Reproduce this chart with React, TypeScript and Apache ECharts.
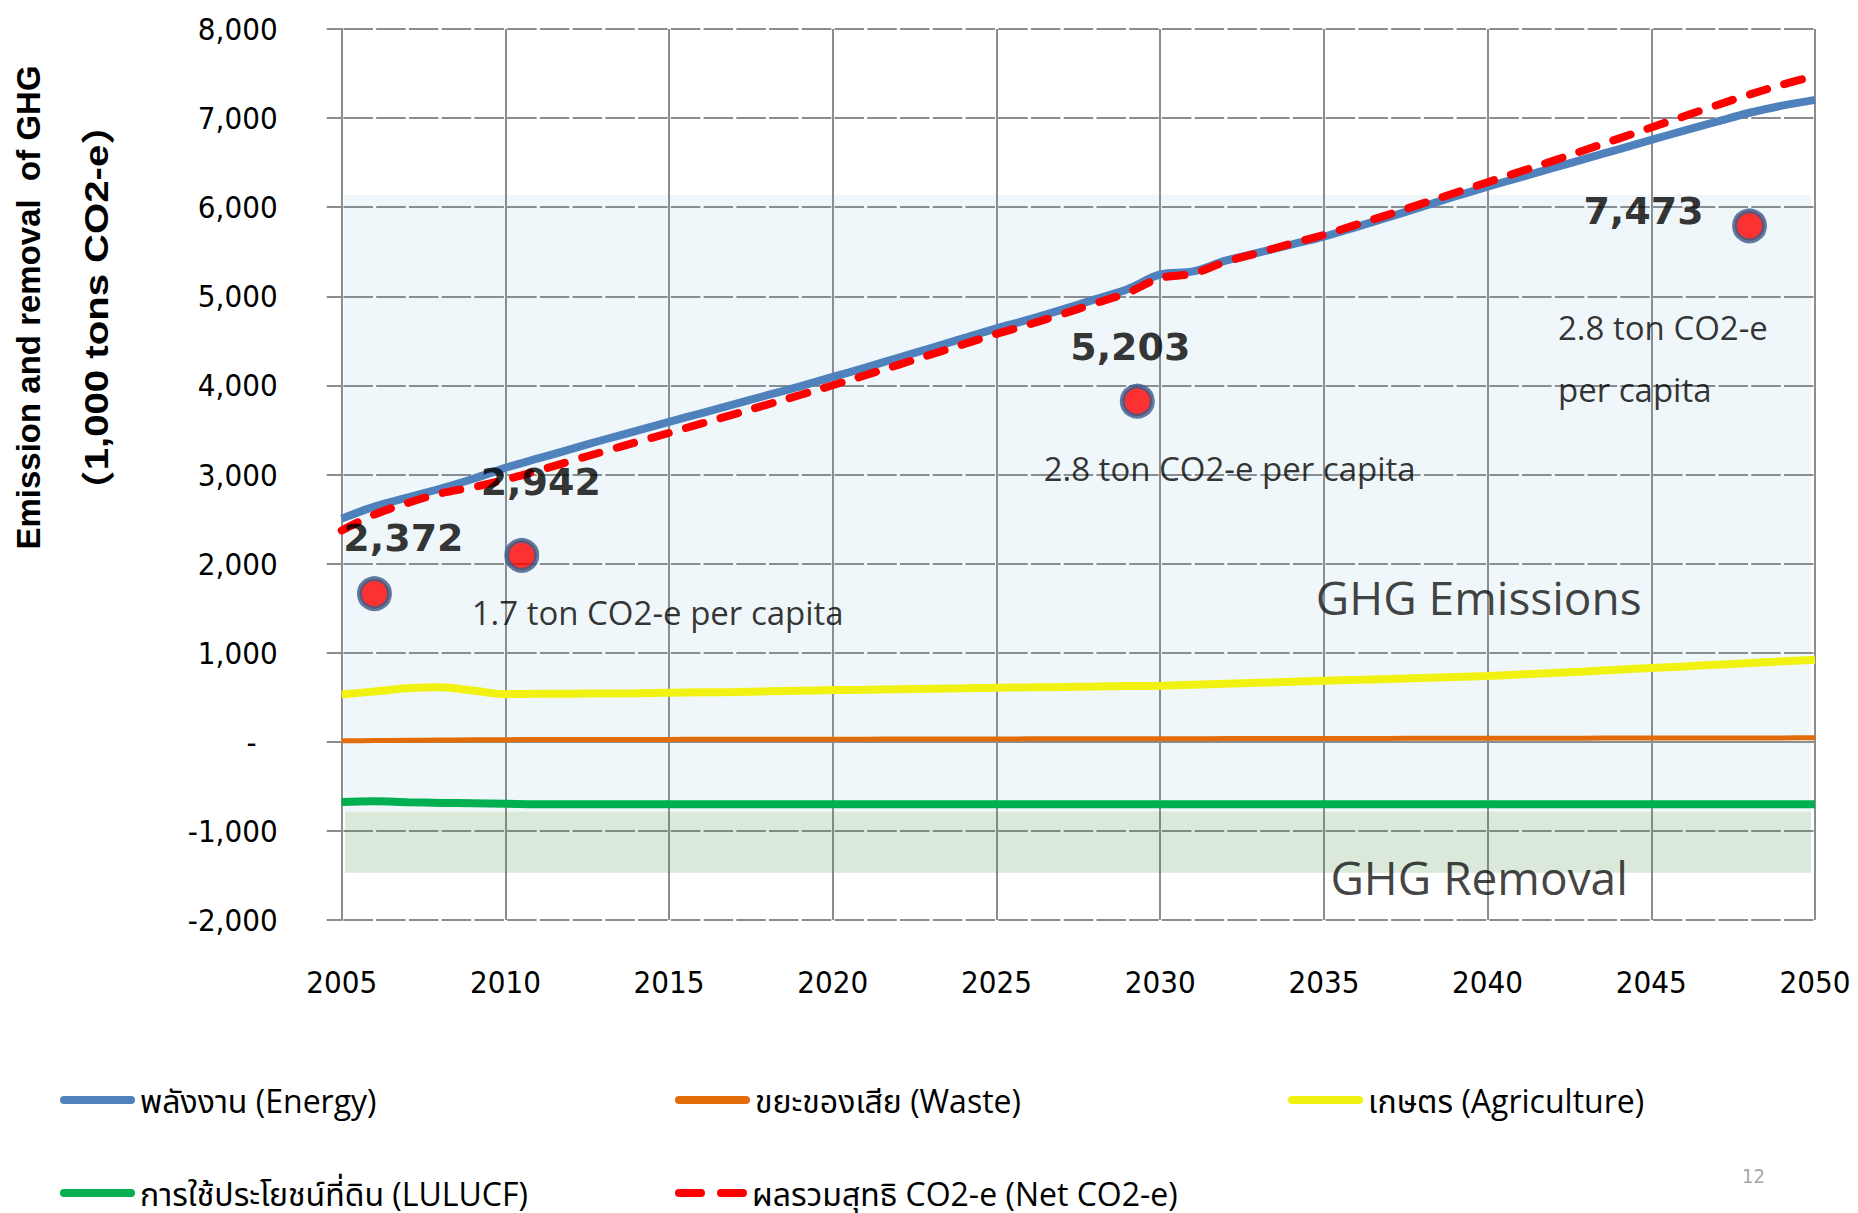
import React, { useEffect, useRef } from "react";
import * as echarts from "echarts";

const years = [
  2005, 2006, 2007, 2008, 2009, 2010, 2011, 2012, 2013, 2014,
  2015, 2016, 2017, 2018, 2019, 2020, 2021, 2022, 2023, 2024,
  2025, 2026, 2027, 2028, 2029, 2030, 2031, 2032, 2033, 2034,
  2035, 2036, 2037, 2038, 2039, 2040, 2041, 2042, 2043, 2044,
  2045, 2046, 2047, 2048, 2049, 2050,
];
const energy = [
  2505, 2640, 2740, 2840, 2950, 3075, 3180, 3285, 3390, 3490,
  3590, 3690, 3790, 3890, 3990, 4095, 4200, 4310, 4420, 4530,
  4640, 4740, 4850, 4965, 5080, 5245, 5280, 5400, 5490, 5580,
  5670, 5780, 5890, 6005, 6120, 6230, 6335, 6440, 6545, 6650,
  6755, 6860, 6960, 7060, 7140, 7205,
];
const waste = [
  11, 14, 17, 20, 22, 24, 25, 26, 26, 27,
  27, 28, 28, 29, 29, 30, 30, 31, 31, 32,
  32, 33, 33, 34, 34, 35, 35, 36, 36, 37,
  37, 38, 38, 39, 39, 40, 40, 41, 41, 42,
  42, 43, 43, 44, 44, 45,
];
const agriculture = [
  532, 565, 600, 612, 575, 535, 538, 540, 542, 545,
  550, 555, 560, 566, 573, 580, 585, 590, 596, 601,
  607, 611, 616, 620, 625, 630, 640, 651, 662, 673,
  685, 695, 705, 716, 727, 738, 755, 772, 790, 809,
  828, 846, 865, 884, 903, 922,
];
const lulucf = [
  -675, -668, -678, -686, -690, -695, -700, -700, -700, -700,
  -700, -700, -700, -700, -700, -700, -700, -700, -700, -700,
  -700, -700, -700, -700, -700, -700, -700, -700, -700, -700,
  -700, -700, -700, -700, -700, -700, -700, -700, -700, -700,
  -700, -700, -700, -700, -700, -700,
];
const netTotal = [
  2372, 2551, 2679, 2786, 2857, 2942, 3043, 3151, 3258, 3362,
  3467, 3573, 3678, 3785, 3892, 4002, 4115, 4231, 4347, 4463,
  4579, 4684, 4799, 4919, 5039, 5203, 5255, 5387, 5488, 5590,
  5690, 5805, 5920, 6040, 6160, 6280, 6400, 6520, 6645, 6770,
  6895, 7020, 7145, 7265, 7375, 7473,
];

const seriesNames = [
  "พลังงาน (Energy)",
  "ขยะของเสีย (Waste)",
  "เกษตร (Agriculture)",
  "การใช้ประโยชน์ที่ดิน (LULUCF)",
  "ผลรวมสุทธิ CO2-e (Net CO2-e)",
];
const seriesColors = ["#4f81bd", "#e36c0a", "#f2f212", "#00b050", "#ff0000"];

const dotYears = [2006.0, 2010.5, 2029.3, 2048.0];
const dotValues = [1663, 2093, 3823, 5791];
const dotLabels = ["2,372", "2,942", "5,203", "7,473"];
const dotLabelOffsets = [
  [29, -56],
  [19, -73],
  [-7, -54],
  [-106, -15],
];

const noteTexts = [
  "1.7 ton CO2-e per capita",
  "2.8 ton CO2-e per capita",
  "2.8 ton CO2-e\nper capita",
];
const noteYears = [2008.97, 2026.44, 2042.15];
const noteValues = [1450, 3070, 4305];

const regionTexts = ["GHG Emissions", "GHG Removal"];
const regionYears = [2039.73, 2039.74];
const regionValues = [1627, -1523];

// decorative boxes (data coordinates)
const emissionBox = { x0: 2005.07, x1: 2049.88, y0: -786, y1: 6136 };
const removalBox = { x0: 2005.1, x1: 2049.88, y0: -1471, y1: -786 };

const yTitle1 = "Emission and removal  of GHG";
const yTitle2 = "1,000 tons CO2-e";
const pageNumber = "12";

const GRID = "#8c8c8c";
const AXIS_FONT = "'DejaVu Sans Condensed', 'DejaVu Sans', sans-serif";
const TEXT_FONT =
  "'Open Sans', 'Noto Sans Thai', 'Noto Sans Thai UI', 'Loma', 'Garuda', 'Sarabun', 'Tlwg Typo', sans-serif";

const pillIcon = "path://M4,0H71A4,4,0,0,1,71,8H4A4,4,0,0,1,4,0Z";
const dashIcon =
  "path://M4,0H26A4,4,0,0,1,26,8H4A4,4,0,0,1,4,0ZM46,0H68A4,4,0,0,1,68,8H46A4,4,0,0,1,46,0Z";
const legendPos = [
  [55, 1079],
  [670, 1079],
  [1283, 1079],
  [55, 1172],
  [670, 1172],
];

export default function App() {
  const ref = useRef<HTMLDivElement>(null);

  useEffect(() => {
    if (!ref.current) return;
    const chart = echarts.init(ref.current, null, { renderer: "svg" });

    const lineData = [energy, waste, agriculture, lulucf, netTotal];
    const widths = [8, 5, 8, 8, 8];

    const lineSeries = lineData.map((arr, i) => ({
      name: seriesNames[i],
      type: "line",
      data: years.map((y, k) => [y, arr[k]]),
      showSymbol: false,
      symbol: "none",
      smooth: 0.35,
      z: 2 + (i === 4 ? 1 : 0),
      itemStyle: { color: seriesColors[i] },
      lineStyle:
        i === 4
          ? { color: seriesColors[i], width: widths[i], type: [18, 18], cap: "round" }
          : { color: seriesColors[i], width: widths[i] },
      emphasis: { disabled: true },
    }));

    const legends = seriesNames.map((n, i) => ({
      left: legendPos[i][0],
      top: legendPos[i][1],
      itemWidth: i === 4 ? 72 : 75,
      itemHeight: 8,
      selectedMode: false,
      textStyle: { fontSize: 32, fontFamily: TEXT_FONT, color: "#000", lineHeight: 32 },
      data: [
        {
          name: n,
          icon: i === 4 ? dashIcon : pillIcon,
          itemStyle: { color: seriesColors[i], borderWidth: 0 },
        },
      ],
    }));

    const option: any = {
      animation: false,
      backgroundColor: "#ffffff",
      grid: { left: 341.7, right: 43, top: 29, bottom: 293, containLabel: false },
      legend: legends,
      xAxis: {
        type: "value",
        min: 2005,
        max: 2050,
        interval: 5,
        axisLine: { show: true, lineStyle: { color: GRID, width: 2 } },
        axisTick: { show: true, length: 15, lineStyle: { color: GRID, width: 2 } },
        axisLabel: {
          margin: 46,
          fontSize: 31,
          fontFamily: AXIS_FONT,
          color: "#000",
          formatter: (v: number) => String(v),
        },
        splitLine: { show: true, lineStyle: { color: GRID, width: 2 } },
      },
      yAxis: {
        type: "value",
        min: -2000,
        max: 8000,
        interval: 1000,
        axisLine: { show: true, lineStyle: { color: GRID, width: 2 } },
        axisTick: { show: true, length: 15, lineStyle: { color: GRID, width: 2 } },
        axisLabel: {
          margin: 64,
          fontSize: 31,
          fontFamily: AXIS_FONT,
          color: "#000",
          formatter: (v: number) =>
            v === 0 ? "{d|-}" : v.toLocaleString("en-US"),
          rich: {
            d: {
              fontSize: 31,
              fontFamily: AXIS_FONT,
              color: "#000",
              padding: [0, 21, 0, 0],
            },
          },
        },
        splitLine: {
          show: true,
          lineStyle: { color: GRID, width: 2, type: [29.5, 3.24], dashOffset: 31.12 },
        },
      },
      series: [
        {
          name: "__boxes",
          type: "line",
          data: [],
          z: 1,
          silent: true,
          markArea: {
            silent: true,
            data: [
              [
                {
                  coord: [emissionBox.x0, emissionBox.y1],
                  itemStyle: { color: "rgba(105,175,205,0.1)" },
                },
                { coord: [emissionBox.x1, emissionBox.y0] },
              ],
              [
                {
                  coord: [removalBox.x0, removalBox.y1],
                  itemStyle: { color: "rgba(70,145,70,0.2)" },
                },
                { coord: [removalBox.x1, removalBox.y0] },
              ],
            ],
          },
        },
        ...lineSeries,
        {
          name: "__dots",
          type: "scatter",
          z: 5,
          symbolSize: 30,
          itemStyle: { color: "#ff0000", borderColor: "#385d8a", borderWidth: 5 },
          emphasis: { disabled: true },
          data: dotYears.map((y, i) => ({
            value: [y, dotValues[i]],
            label: {
              show: true,
              position: "inside",
              offset: dotLabelOffsets[i],
              formatter: dotLabels[i],
              fontSize: 38,
              fontWeight: "bold",
              fontFamily: "'DejaVu Sans', sans-serif",
              color: "#000",
            },
          })),
        },
        {
          name: "__notes",
          type: "scatter",
          z: 6,
          symbolSize: 0,
          silent: true,
          data: noteYears.map((y, i) => ({
            value: [y, noteValues[i]],
            label: {
              show: true,
              position: "inside",
              align: "left",
              verticalAlign: "middle",
              formatter: noteTexts[i],
              fontSize: 33,
              lineHeight: 62,
              fontFamily: TEXT_FONT,
              color: "#000",
            },
          })),
        },
        {
          name: "__regions",
          type: "scatter",
          z: 6,
          symbolSize: 0,
          silent: true,
          data: regionYears.map((y, i) => ({
            value: [y, regionValues[i]],
            label: {
              show: true,
              position: "inside",
              align: "center",
              verticalAlign: "middle",
              formatter: regionTexts[i],
              fontSize: 46,
              fontFamily: TEXT_FONT,
              color: "#111",
            },
          })),
        },
      ],
      graphic: [
        {
          type: "text",
          x: 28,
          y: 307.5,
          rotation: Math.PI / 2,
          style: {
            text: yTitle1,
            fontSize: 33,
            fontWeight: "bold",
            fontFamily: "'Liberation Sans', Arial, sans-serif",
            fill: "#000",
            align: "center",
            verticalAlign: "middle",
          },
        },
        {
          type: "text",
          x: 96,
          y: 307.5,
          rotation: Math.PI / 2,
          scaleX: 1.18,
          style: {
            text: "{p|（}" + yTitle2 + "{p|）}",
            fontSize: 34,
            fontWeight: "bold",
            fontFamily: "'Liberation Sans', Arial, sans-serif",
            fill: "#000",
            align: "center",
            verticalAlign: "middle",
            rich: {
              p: {
                fontSize: 34,
                fontWeight: "bold",
                fontFamily: "'Noto Sans CJK SC', 'Noto Sans CJK JP', sans-serif",
                fill: "#000",
              },
            },
          },
        },
        {
          type: "text",
          x: 1742,
          y: 1166,
          style: {
            text: pageNumber,
            fontSize: 20,
            fontFamily: AXIS_FONT,
            fill: "#a6a6a6",
          },
        },
      ],
    };

    chart.setOption(option);
    return () => chart.dispose();
  }, []);

  return (
    <div
      ref={ref}
      style={{ position: "absolute", left: 0, top: 0, width: 1858, height: 1213 }}
    />
  );
}
